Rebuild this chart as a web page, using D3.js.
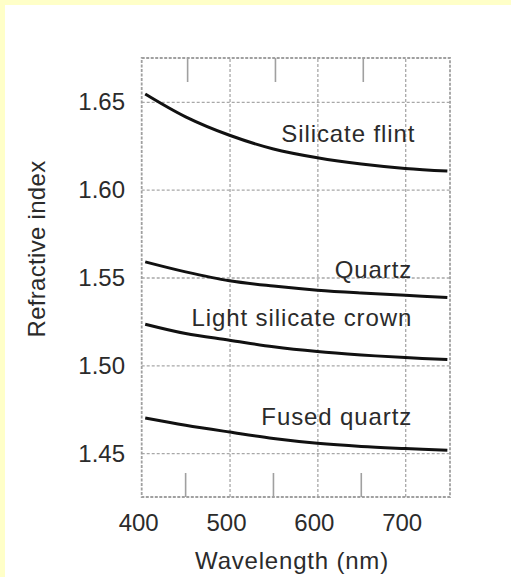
<!DOCTYPE html>
<meta charset="utf-8">
<style type="text/css">
    body { margin: 0; background: #ffffff; }
    svg { display: block; }
    text {
        font-family: "Liberation Sans", Arial, sans-serif;
        fill: #2b2b2b;
    }
    .grid line { stroke: #a8a8a8; stroke-width: 1.3; stroke-dasharray: 3,2; }
    .grid path { display: none; }
    .frame { fill: none; stroke: #a0a0a0; stroke-width: 1.8; stroke-dasharray: 3,1.5; }
    .minor line { stroke: #a0a0a0; stroke-width: 1.6; }
    .curve { fill: none; stroke: #111; stroke-width: 3; }
</style>
<svg id="chart"></svg>
<script src="https://cdn.jsdelivr.net/npm/d3@7"></script>
<script type="text/javascript">
    var W = 511, H = 577;

    // wavelengths (nm) where the curves were read
    var wavelengths = [404, 450, 500, 550, 600, 650, 700, 748];

    var silicateFlint = [1.6545, 1.6415, 1.6310, 1.6232, 1.6182, 1.6146, 1.6121, 1.6106];
    var quartz        = [1.5589, 1.5532, 1.5481, 1.5451, 1.5428, 1.5412, 1.5399, 1.5386];
    var lightCrown    = [1.5234, 1.5181, 1.5143, 1.5105, 1.5078, 1.5059, 1.5044, 1.5033];
    var fusedQuartz   = [1.4700, 1.4659, 1.4620, 1.4583, 1.4556, 1.4538, 1.4526, 1.4516];

    var seriesNames = ["Silicate flint", "Quartz", "Light silicate crown", "Fused quartz"];
    var seriesValues = [silicateFlint, quartz, lightCrown, fusedQuartz];

    var xTicks = [400, 500, 600, 700];
    var xMinorTicks = [450, 550, 650];
    var yTicks = [1.45, 1.50, 1.55, 1.60, 1.65];

    var svg = d3.select("#chart").attr("width", W).attr("height", H);

    // pale yellow border on top and left
    svg.append("rect").attr("width", W).attr("height", H).attr("fill", "#ffffc8");
    svg.append("rect").attr("x", 5).attr("y", 5).attr("width", W - 5).attr("height", H - 5).attr("fill", "#fff");

    var pLeft = 141.7, pRight = 450, pTop = 58, pBottom = 497;

    var x = d3.scaleLinear().domain([400, 751]).range([pLeft, pRight]);
    var y = d3.scaleLinear().domain([1.425, 1.675]).range([pBottom, pTop]);

    // grid lines
    svg.append("g").attr("class", "grid")
        .attr("transform", "translate(0," + pBottom + ")")
        .call(d3.axisBottom(x).tickValues(xTicks.slice(1)).tickSize(-(pBottom - pTop)).tickFormat(""));
    svg.append("g").attr("class", "grid")
        .attr("transform", "translate(" + pLeft + ",0)")
        .call(d3.axisLeft(y).tickValues(yTicks).tickSize(-(pRight - pLeft)).tickFormat(""));

    // short minor ticks from top and bottom edges
    var minor = svg.append("g").attr("class", "minor");
    minor.selectAll(".mt").data(xMinorTicks).join("line")
        .attr("class", "mt")
        .attr("x1", d => x(d) + 2).attr("x2", d => x(d) + 2)
        .attr("y1", pTop).attr("y2", pTop + 24);
    minor.selectAll(".mb").data(xMinorTicks).join("line")
        .attr("class", "mb")
        .attr("x1", d => x(d)).attr("x2", d => x(d))
        .attr("y1", pBottom - 24).attr("y2", pBottom);

    svg.append("rect").attr("class", "frame")
        .attr("x", pLeft).attr("y", pTop)
        .attr("width", pRight - pLeft).attr("height", pBottom - pTop);

    // tick labels
    svg.append("g").selectAll("text").data(xTicks).join("text")
        .attr("x", d => x(d) - 3).attr("y", 531)
        .attr("text-anchor", "middle")
        .style("font-size", "24px")
        .text(d => d);
    svg.append("g").selectAll("text").data(yTicks).join("text")
        .attr("x", 125).attr("y", d => y(d)).attr("dy", "0.35em")
        .attr("text-anchor", "end")
        .style("font-size", "24px")
        .text(d => d3.format(".2f")(d));

    // axis titles
    svg.append("text")
        .attr("x", 292).attr("y", 569)
        .attr("text-anchor", "middle")
        .style("font-size", "24px").style("letter-spacing", "0.8px")
        .text("Wavelength (nm)");
    svg.append("text")
        .attr("transform", "translate(45,249) rotate(-90)")
        .attr("text-anchor", "middle")
        .style("font-size", "24px").style("letter-spacing", "0.3px")
        .text("Refractive index");

    // curves
    var line = d3.line()
        .x((d, i) => x(wavelengths[i]))
        .y(d => y(d))
        .curve(d3.curveCatmullRom.alpha(0.5));

    svg.append("g").selectAll("path").data(seriesValues).join("path")
        .attr("class", "curve")
        .attr("d", line);

    // curve labels (anchored at their right end, in data units)
    var labelWl = [711.5, 708, 708, 708];
    var labelVal = [1.6271, 1.5495, 1.5223, 1.4659];

    svg.append("g").selectAll("text").data(seriesNames).join("text")
        .attr("x", (d, i) => x(labelWl[i]))
        .attr("y", (d, i) => y(labelVal[i]))
        .attr("text-anchor", "end")
        .style("font-size", "24px").style("letter-spacing", "0.9px")
        .text(d => d);
</script>
